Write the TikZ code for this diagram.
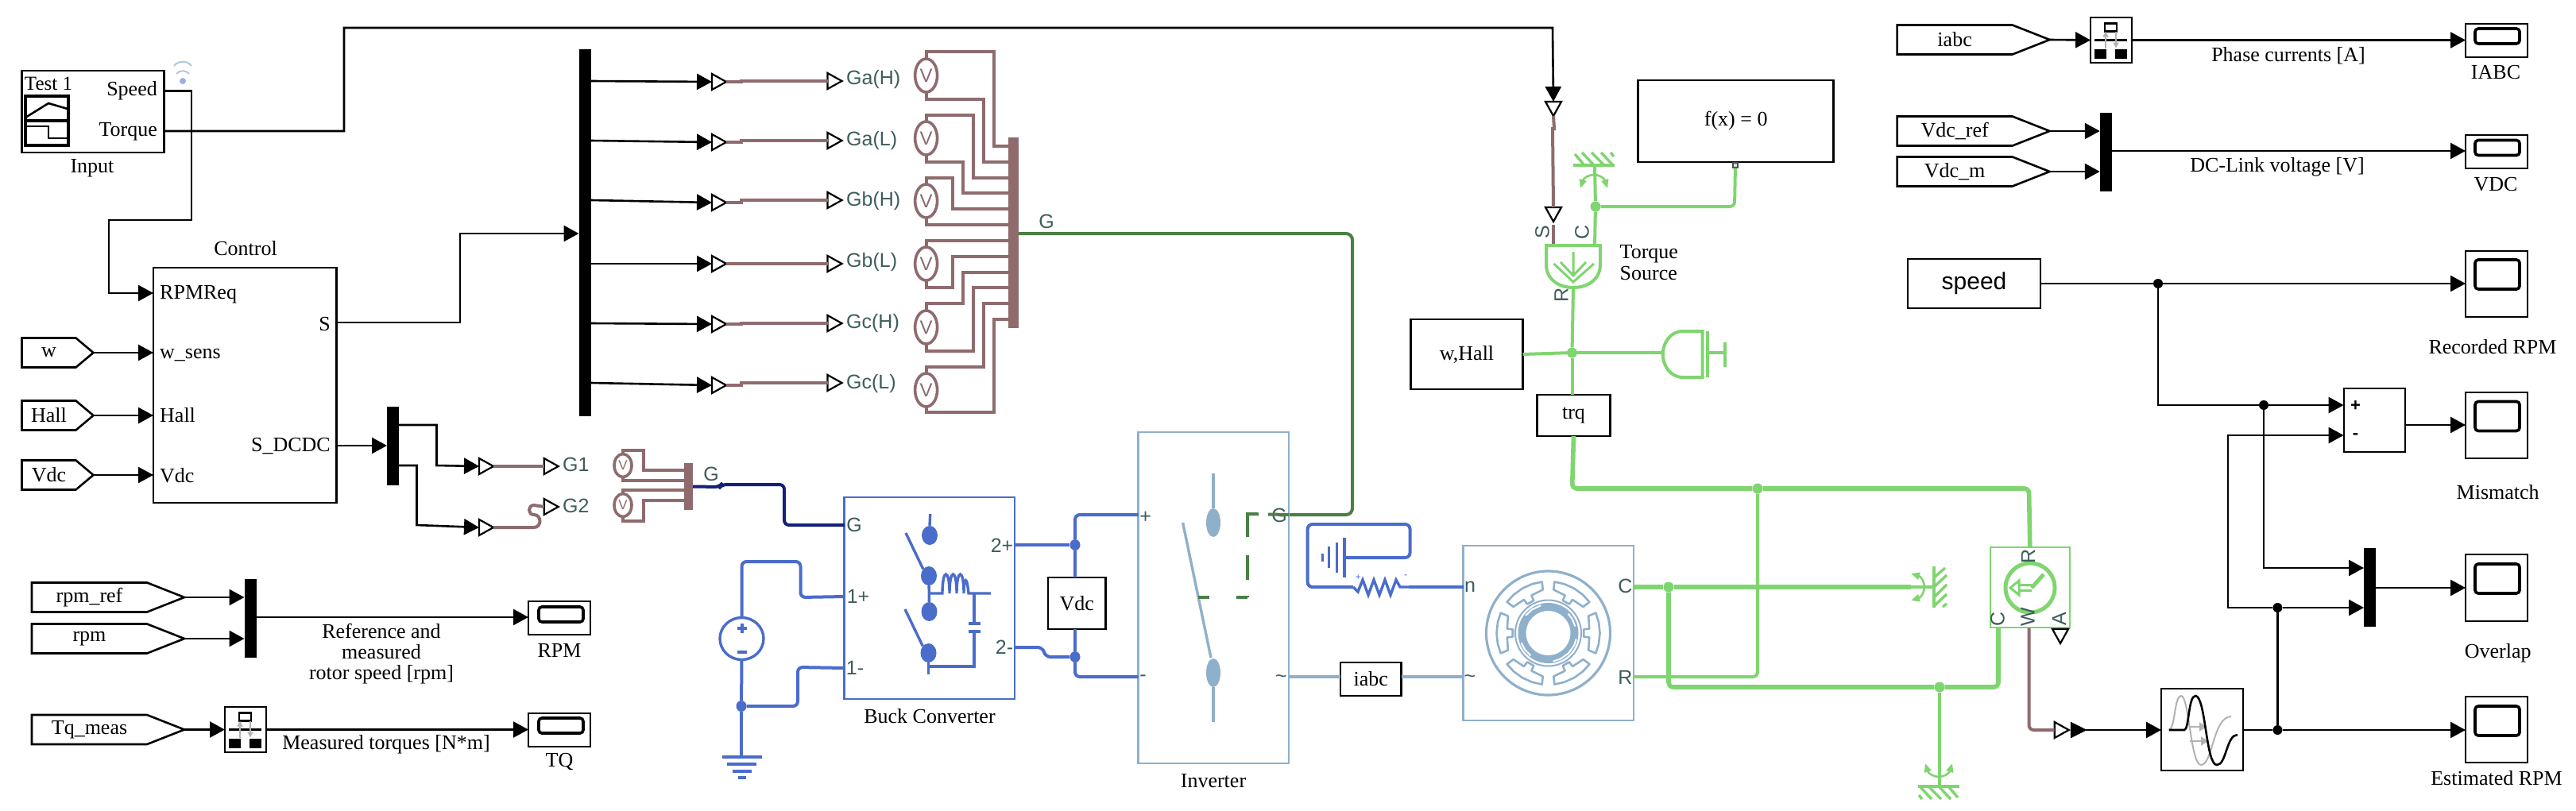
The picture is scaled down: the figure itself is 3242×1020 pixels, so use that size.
\documentclass[tikz,border=0pt]{standalone}
\usepackage{fontspec}
\setmainfont{Liberation Serif}
\setsansfont{Liberation Sans}
\usepackage{xcolor}
\usetikzlibrary{shapes,arrows.meta,positioning}
\definecolor{gatebrown}{HTML}{8F6B6E}
\definecolor{mechgreen}{HTML}{7FD56F}
\definecolor{gategreen}{HTML}{4B7F47}
\definecolor{gatenavy}{HTML}{14207A}
\definecolor{elecblue}{HTML}{4A6CCB}
\definecolor{paleblue}{HTML}{8FB0CB}
\definecolor{porttext}{HTML}{3E5C5C}
\tikzset{
  blk/.style={rectangle,draw,line width=2.6pt,inner sep=0pt,outer sep=0pt,font=\fontsize{26}{30}\selectfont},
  scopebox/.style={blk,minimum width=78pt},
  scopescr/.style={rectangle,draw,line width=3.6pt,rounded corners=4pt,inner sep=0pt,minimum width=56pt},
  busbar/.style={rectangle,fill=black,inner sep=0pt,outer sep=0pt,minimum width=15pt,minimum height=99pt},
  tagbig/.style={signal,draw,line width=2.6pt,inner sep=0pt,outer sep=0pt,signal to=east,signal pointer angle=43,minimum width=192pt,minimum height=37pt,font=\fontsize{26}{30}\selectfont},
  tagsmall/.style={signal,draw,line width=2.6pt,inner sep=0pt,outer sep=0pt,signal to=east,signal pointer angle=80,minimum width=90pt,minimum height=37pt,font=\fontsize{26}{30}\selectfont},
  lbl/.style={inner sep=0pt,font=\fontsize{26}{26}\selectfont},
  plbl/.style={inner sep=0pt,font=\sffamily\fontsize{25}{28}\selectfont,text=porttext},
  tri/.style={isosceles triangle,isosceles triangle stretches,draw=black,fill=white,line width=2.2pt,inner sep=0pt,outer sep=0pt,minimum width=20pt,minimum height=18pt,anchor=west},
  sig/.style={draw=black,line width=2.6pt,-{Triangle[length=19pt,width=20pt]}},
  line/.style={draw=black,line width=2.6pt},
  dotb/.style={circle,fill=black,inner sep=0pt,minimum size=12pt},
  dotm/.style={circle,fill=mechgreen,inner sep=0pt,minimum size=13pt},
  dote/.style={ellipse,fill=elecblue,inner sep=0pt,minimum width=13pt,minimum height=14pt},
  dotk/.style={ellipse,fill=elecblue,inner sep=0pt,minimum width=20pt,minimum height=24pt},
  gate/.style={draw=gatebrown,line width=4pt},
  gatebus/.style={rectangle,fill=gatebrown,inner sep=0pt,outer sep=0pt},
  volt/.style={ellipse,draw=gatebrown,line width=3.6pt,fill=white,inner sep=0pt,outer sep=0pt,minimum width=28pt,minimum height=42pt,text=gatebrown,font=\sffamily\fontsize{24}{24}\selectfont},
  voltsm/.style={volt,minimum width=22pt,minimum height=29pt,font=\sffamily\fontsize{17}{17}\selectfont},
  elec/.style={draw=elecblue,line width=4pt,rounded corners=6pt},
  elecbox/.style={rectangle,draw=elecblue,line width=2.2pt,inner sep=0pt,outer sep=0pt},
  pale/.style={draw=paleblue,line width=4pt},
  palebox/.style={rectangle,draw=paleblue,line width=2.2pt,inner sep=0pt,outer sep=0pt},
  mech/.style={draw=mechgreen,line width=4pt,rounded corners=6pt},
  mechth/.style={draw=mechgreen,line width=5.6pt,rounded corners=6pt},
  eswitch/.style={elec,rounded corners=0pt,line width=3.4pt}
}
\newcommand{\selicon}[1]{%
  \begin{scope}[shift={(#1)}]
    \draw[line width=2.4pt] (-8,-21) rectangle (7,-11);
    \draw[line width=2.4pt] (-21,0) -- (20,0);
    \fill (-21,11) rectangle (-6,23);
    \fill (5,11) rectangle (20,23);
    \draw[gray!60,line width=2pt,-{Triangle[length=7pt,width=7pt]}] (-7,10) -- (-7,-11);
    \draw[gray!60,line width=2pt,-{Triangle[length=7pt,width=7pt]}] (6,-11) -- (6,10);
  \end{scope}}
\newcommand{\mechwall}[3]{%
  \begin{scope}[shift={(#1,#2)},rotate=#3]
    \draw[draw=mechgreen,line width=3.4pt] (-26,0) -- (26,0);
    \draw[draw=mechgreen,line width=3.4pt] (-24,-14) -- (-12,0) (-15,-16) -- (0,0) (-3,-16) -- (13,0) (9,-16) -- (24,0) (21,-16) -- (25,-11);
    \draw[draw=mechgreen,line width=2.6pt,{Triangle[length=11pt,width=9pt]}-{Triangle[length=11pt,width=9pt]}] (-17,29) .. controls (-13,16) and (-6,12) .. (0,12) .. controls (6,12) and (13,16) .. (17,29);
  \end{scope}}
\newcommand{\statorpole}[1]{%
  \draw[draw=paleblue,line width=2.6pt,line join=round] (#1-23:65) -- (#1-12:65) -- (#1:65) -- (#1+12:65) -- (#1+23:65) -- (#1+23:55) -- (#1+6:52) -- (#1+6:45) -- (#1-6:45) -- (#1-6:52) -- (#1-23:55) -- cycle;}

\begin{document}
\begin{tikzpicture}[x=1pt,y=-1pt,>=stealth]
    \useasboundingbox (0,0) rectangle (3242,1020);

    % input and control
    \node[blk,minimum width=179pt,minimum height=103pt] (input) at (117,140.5) {};
    \node[lbl,font=\fontsize{25}{26}\selectfont] (test) at (61,105) {Test 1};
    \node[lbl,anchor=east] (speedl) at (198,114) {Speed};
    \node[lbl,anchor=east] (torquel) at (198,166) {Torque};
    \node[lbl] (inputl) at (116,212) {Input};
    \draw[line width=3.2pt] (32,121) rectangle (86,183) (32,152) -- (86,152);
    \draw[line width=2.6pt] (32,148) -- (61,130) -- (85,137);
    \draw[line width=2.6pt] (32,159) -- (61,159) -- (61,174) -- (85,174);
    \draw[paleblue!70,line width=2pt] (219,83) .. controls (224,76) and (236,76) .. (241,83);
    \draw[paleblue!70,line width=2pt] (222,93) .. controls (226,88) and (234,88) .. (238,93);
    \node[circle,fill=elecblue!55,inner sep=0pt,minimum size=8pt] (wifi) at (230,102) {};
    \coordinate (inSpeed) at (207,114.5);
    \coordinate (inTorque) at (207,165);

    \node[blk,minimum width=230.5pt,minimum height=296pt] (ctrl) at (308.25,485) {};
    \node[lbl] (ctrll) at (309,313) {Control};
    \node[lbl,anchor=west] (rpmreq) at (201,371) {RPMReq};
    \node[lbl,anchor=west] (wsens) at (201,447) {w\_sens};
    \node[lbl,anchor=west] (halli) at (201,523) {Hall};
    \node[lbl,anchor=west] (vdci) at (201,599) {Vdc};
    \node[lbl,anchor=east] (sout) at (416,408) {S};
    \node[lbl,anchor=east] (sdcdc) at (416,562) {S\_DCDC};
    \coordinate (ctrlRpm) at (193,369);
    \coordinate (ctrlW) at (193,444);
    \coordinate (ctrlHall) at (193,523);
    \coordinate (ctrlVdc) at (193,598);
    \coordinate (ctrlS) at (423.5,406);
    \coordinate (ctrlD) at (423.5,561);

    \node[tagsmall,anchor=west] (tagw) at (27.5,444) {w\hspace{12pt}};
    \node[tagsmall,anchor=west] (taghall) at (27.5,523) {Hall\hspace{12pt}};
    \node[tagsmall,anchor=west] (tagvdc) at (27.5,598) {Vdc\hspace{12pt}};

    \draw[sig] (inSpeed) -- (241,114.5) -- (241,277) -- (137,277) -- (137,369) -- (ctrlRpm);
    \draw[sig] (tagw.east) -- (ctrlW);
    \draw[sig] (taghall.east) -- (ctrlHall);
    \draw[sig] (tagvdc.east) -- (ctrlVdc);

    % gate signals
    \node[busbar,minimum height=462pt] (gbus) at (736,293) {};
    \coordinate (gbusIn) at (728.5,294);
    \draw[sig] (ctrlS) -- (579,406) -- (579,294) -- (gbusIn);

    \node[tri] (ga) at (896,103) {};
    \node[tri] (gb) at (896,179) {};
    \node[tri] (gc) at (896,255) {};
    \node[tri] (gd) at (896,332) {};
    \node[tri] (ge) at (896,408) {};
    \node[tri] (gf) at (896,485) {};
    \node[tri] (ha) at (1041.5,102) {};
    \node[tri] (hb) at (1041.5,177) {};
    \node[tri] (hc) at (1041.5,252) {};
    \node[tri] (hd) at (1041.5,332) {};
    \node[tri] (he) at (1041.5,407) {};
    \node[tri] (hf) at (1041.5,482) {};
    \draw[sig] (744,102) -- (ga.west);
    \draw[sig] (744,177) -- (gb.west);
    \draw[sig] (744,252) -- (gc.west);
    \draw[sig] (744,332) -- (gd.west);
    \draw[sig] (744,407) -- (ge.west);
    \draw[sig] (744,482) -- (gf.west);
    \draw[gate] (ga.apex) -- (933,103) -- (933,102) -- (ha.west);
    \draw[gate] (gb.apex) -- (933,179) -- (933,177) -- (hb.west);
    \draw[gate] (gc.apex) -- (933,255) -- (933,252) -- (hc.west);
    \draw[gate] (gd.apex) -- (hd.west);
    \draw[gate] (ge.apex) -- (933,408) -- (933,407) -- (he.west);
    \draw[gate] (gf.apex) -- (933,485) -- (933,482) -- (hf.west);
    \node[plbl,anchor=west] (gal) at (1065,100) {Ga(H)};
    \node[plbl,anchor=west] (gbl) at (1065,177) {Ga(L)};
    \node[plbl,anchor=west] (gcl) at (1065,253) {Gb(H)};
    \node[plbl,anchor=west] (gdl) at (1065,330) {Gb(L)};
    \node[plbl,anchor=west] (gel) at (1065,407) {Gc(H)};
    \node[plbl,anchor=west] (gfl) at (1065,483) {Gc(L)};

    \node[gatebus,minimum width=13pt,minimum height=240pt] (vbus) at (1275.5,293) {};
    \node[volt] (va) at (1165.6,95) {V};
    \node[volt] (vb) at (1165.6,174) {V};
    \node[volt] (vc) at (1165.6,253) {V};
    \node[volt] (vd) at (1165.6,332) {V};
    \node[volt] (ve) at (1165.6,412) {V};
    \node[volt] (vf) at (1165.6,491) {V};
    \draw[gate] (va.north) -- (1165.6,65) -- (1251,65) -- (1251,184) -- (1269,184);
    \draw[gate] (va.south) -- (1165.6,125) -- (1238,125) -- (1238,204) -- (1269,204);
    \draw[gate] (vb.north) -- (1165.6,145) -- (1224.5,145) -- (1224.5,224) -- (1269,224);
    \draw[gate] (vb.south) -- (1165.6,204) -- (1212,204) -- (1212,243) -- (1269,243);
    \draw[gate] (vc.north) -- (1165.6,224) -- (1198.6,224) -- (1198.6,263) -- (1269,263);
    \draw[gate] (vc.south) -- (1165.6,283) -- (1269,283);
    \draw[gate] (vd.north) -- (1165.6,303) -- (1269,303);
    \draw[gate] (vd.south) -- (1165.6,362) -- (1198.6,362) -- (1198.6,323) -- (1269,323);
    \draw[gate] (ve.north) -- (1165.6,382) -- (1212,382) -- (1212,343) -- (1269,343);
    \draw[gate] (ve.south) -- (1165.6,442) -- (1224.5,442) -- (1224.5,362) -- (1269,362);
    \draw[gate] (vf.north) -- (1165.6,462) -- (1238,462) -- (1238,382) -- (1269,382);
    \draw[gate] (vf.south) -- (1165.6,519) -- (1251,519) -- (1251,402) -- (1269,402);

    \node[plbl] (gmain) at (1317,279) {G};
    \coordinate (vbusOut) at (1282,294);
    \coordinate (invG) at (1622,648);
    \draw[draw=gategreen,line width=4pt,rounded corners=8pt] (vbusOut) -- (1702,294) -- (1702,648) -- (invG);

    % buck gate signals
    \node[busbar,minimum height=99pt] (dbus) at (494,561.5) {};
    \coordinate (dbusIn) at (487,561);
    \draw[sig] (ctrlD) -- (dbusIn);
    \node[tri] (ja) at (603,587) {};
    \node[tri] (jb) at (603,664) {};
    \node[tri] (ka) at (684.7,587) {};
    \node[tri] (kb) at (684.7,638) {};
    \draw[sig] (501,535) -- (549.5,535) -- (549.5,586) -- (ja.west);
    \draw[sig] (501,586) -- (524.5,586) -- (524.5,661) -- (jb.west);
    \draw[gate] (ja.apex) -- (ka.west);
    \draw[gate] (jb.apex) -- (672,664) .. controls (682,664) and (682,648) .. (672,648) .. controls (664,648) and (664,636) .. (672,636) -- (kb.west);
    \node[plbl,anchor=west] (goneL) at (708,585) {G1};
    \node[plbl,anchor=west] (gtwoL) at (708,637) {G2};

    \node[gatebus,minimum width=11pt,minimum height=59pt] (sbus) at (866.5,612.5) {};
    \node[voltsm] (sa) at (784,586) {V};
    \node[voltsm] (sb) at (784,636) {V};
    \draw[gate] (sa.north) -- (784,567) -- (809.5,567) -- (809.5,592) -- (861,592);
    \draw[gate] (sa.south) -- (784,605) -- (861,605);
    \draw[gate] (sb.north) -- (784,617) -- (861,617);
    \draw[gate] (sb.south) -- (784,656) -- (809.5,656) -- (809.5,630) -- (861,630);
    \node[plbl] (gbuckl) at (895,597) {G};

    % buck converter
    \node[elecbox,minimum width=214.5pt,minimum height=254pt] (buck) at (1169.75,753) {};
    \node[lbl] (buckl) at (1170,902) {Buck Converter};
    \node[plbl,anchor=center] (buckg) at (1075,661) {G};
    \node[plbl] (buckp) at (1080,751) {1+};
    \node[plbl] (buckm) at (1076,841) {1-};
    \node[plbl] (bucko) at (1261,687) {2+};
    \node[plbl] (buckn) at (1264,815) {2-};
    \draw[draw=gatenavy,line width=4pt,rounded corners=6pt] (sbus.east) -- (906,613) -- (908,610) -- (987,610) -- (987,661) -- (buck.west |- buckg);
    \node[dotk] (ka1) at (1170,674) {};
    \node[dotk] (ka2) at (1169,725) {};
    \node[dotk] (ka3) at (1169.5,770) {};
    \node[dotk] (ka4) at (1168.5,822) {};
    \draw[eswitch] (ka1.north) -- (1170.7,647);
    \draw[eswitch] (1140,671) -- (ka2.north west);
    \draw[eswitch] (ka2) -- (ka3);
    \draw[eswitch] (1139,767) -- (ka4.north west);
    \draw[eswitch] (ka4) -- (1168.5,849);
    \draw[eswitch] (1169,747) -- (1186,747) .. controls (1186,715) and (1195,715) .. (1195,747) .. controls (1195,715) and (1204,715) .. (1204,747) .. controls (1204,715) and (1213,715) .. (1213,747) .. controls (1213,725) and (1217,725) .. (1219,747) -- (1247,747);
    \draw[eswitch] (1226,747) -- (1226,785) (1219,785) -- (1233.5,785) (1219,795) -- (1233.5,795) (1226,795) -- (1226,839) -- (1169,839);

    % dc supply
    \node[ellipse,draw=elecblue,line width=3.4pt,outer sep=0pt,inner sep=0pt,minimum width=55pt,minimum height=53pt] (batt) at (933.5,804) {};
    \node[dote] (supn) at (933,889) {};
    \draw[elec,line width=4pt] (933.5,791) +(-6,0) -- +(6,0) (933.5,785) -- (933.5,797);
    \draw[elec] (927.5,821) -- (939.5,821);
    \draw[elec] (batt.north) -- (933.5,707) -- (1007.5,707) -- (1007.5,752) -- (buck.west |- buckp);
    \draw[elec] (batt.south) -- (supn);
    \draw[elec] (supn) -- (1004,889) -- (1004,840) -- (buck.west |- buckm);
    \node[inner sep=0pt] (gnd) at (933,953) {};
    \draw[elec] (supn) -- (gnd);
    \draw[elec,rounded corners=0pt] (908.5,953) -- (959,953) (915,962) -- (952,962) (922,971) -- (946,971) (929,979) -- (939,979);

    % dc link
    \node[blk,minimum width=72.6pt,minimum height=65pt] (vdcm) at (1355.3,759.5) {Vdc};
    \node[dote] (dcp) at (1353,686) {};
    \node[dote] (dcn) at (1353,827) {};
    \node[palebox,minimum width=189.5pt,minimum height=417pt] (inv) at (1527.25,752.5) {};
    \node[lbl] (invl) at (1527,983) {Inverter};
    \node[plbl] (invp) at (1441.6,651) {+};
    \node[plbl] (invm) at (1438.6,854) {-};
    \node[plbl] (invgl) at (1610,649) {G};
    \node[plbl] (invac) at (1612.5,855) {\textasciitilde};
    \draw[elec] (buck.east |- dcp) -- (dcp);
    \draw[elec] (buck.east |- buckn) -- (1312,815) -- (1316,827) -- (dcn);
    \draw[elec] (vdcm.north -| dcp) -- (dcp);
    \draw[elec] (dcp) -- (1353,648) -- (inv.west |- 0,648);
    \draw[elec] (vdcm.south -| dcn) -- (dcn);
    \draw[elec] (dcn) -- (1353,852) -- (inv.west |- 0,852);

    % inverter inside
    \node[ellipse,fill=paleblue,inner sep=0pt,minimum width=18pt,minimum height=36pt] (ugbt) at (1527,658) {};
    \node[ellipse,fill=paleblue,inner sep=0pt,minimum width=18pt,minimum height=36pt] (lgbt) at (1527,847) {};
    \draw[pale,line width=3.4pt] (ugbt) -- (1527,596);
    \draw[pale,line width=3.4pt] (lgbt) -- (1527,909);
    \draw[pale,line width=3.4pt] (1488.6,658) -- (1524,828);
    \draw[draw=gategreen,line width=4pt,dash pattern=on 26pt off 12pt on 43pt off 23pt on 31pt off 20pt] (invG) -- (1570,647) -- (1570,752);
    \draw[draw=gategreen,line width=4pt,dash pattern=on 14pt off 34pt] (1570,752) -- (1507,752);

    % machine
    \node[palebox,minimum width=214.5pt,minimum height=220pt] (motor) at (1948.75,797) {};
    \node[plbl] (motn) at (1850,739) {n};
    \node[plbl] (mota) at (1850,855) {\textasciitilde};
    \node[plbl] (motc) at (2045.5,738) {C};
    \node[plbl] (motr) at (2045.5,853) {R};
    \begin{scope}[shift={(1948.5,797)}]
      \draw[draw=paleblue,line width=3.2pt] (0,0) circle[radius=78];
      \statorpole{0}
      \statorpole{60}
      \statorpole{120}
      \statorpole{180}
      \statorpole{240}
      \statorpole{300}
      \draw[draw=paleblue,line width=2pt] (0,0) circle[radius=41.5];
      \draw[draw=paleblue,line width=10pt] (0,0) circle[radius=33];
      \draw[draw=white,line width=2pt] (80:36) -- (65:36) -- (45:36) -- (25:36) -- (12:36);
      \draw[draw=white,line width=2pt] (-14:35) -- (-30:35) -- (-44:35);
      \draw[draw=white,line width=2pt] (-105:36) -- (-125:36) -- (-142:36);
      \draw[draw=white,line width=2pt] (128:36) -- (145:36) -- (160:36);
    \end{scope}
    \node[blk,minimum width=76.6pt,minimum height=42pt] (iabcm) at (1725.3,855) {iabc};
    \draw[pale] (inv.east |- 0,852) -- (iabcm.west |- 0,852);
    \draw[pale] (iabcm.east |- 0,852) -- (motor.west |- 0,852);

    % ground and neutral
    \node[inner sep=0pt] (neuth) at (1691.6,702) {};
    \draw[elec] (motor.west |- motn) -- (1773,739);
    \draw[eswitch] (1773,739) -- (1762,739) -- (1757,730) -- (1750,749) -- (1743,730) -- (1736,749) -- (1729,730) -- (1722,749) -- (1715,730) -- (1709,745) -- (1703,739);
    \draw[elec] (1703,739) -- (1645.7,739) -- (1645.7,660) -- (1774.5,660) -- (1774.5,702) -- (neuth);
    \draw[elec,rounded corners=0pt] (1691.6,677) -- (1691.6,727);
    \draw[elec,rounded corners=0pt,line width=3pt] (1682,683) -- (1682,721) (1672.4,688) -- (1672.4,715) (1664,697) -- (1664,707);
    \node[plbl,font=\sffamily\fontsize{12}{12}\selectfont,text=elecblue] (rplus) at (1709.4,727) {+};
    \node[plbl,font=\sffamily\fontsize{12}{12}\selectfont,text=elecblue] (rminus) at (1769,726) {-};

    % torque source
    \node[tri,rotate=-90] (ta) at (1955,128) {};
    \node[tri,rotate=-90] (tb) at (1955,261) {};
    \draw[sig] (inTorque) -- (433,165) -- (433,35) -- (1954,35) -- (ta.west);
    \draw[gate] (ta.apex) -- (1956,162) -- (1954,162) -- (tb.west);
    \node[plbl,rotate=90] (tsS) at (1941,292) {S};
    \node[plbl,rotate=90] (tsC) at (1991,292) {C};
    \node[plbl,rotate=90] (tsR) at (1965,371) {R};
    \coordinate (tsPs) at (1955,308);
    \draw[gate] (1955,283) -- (tsPs);
    \coordinate (tsPc) at (2007,309);
    \coordinate (tsPr) at (1980,362);
    \draw[draw=mechgreen,line width=4pt] (1946,309) -- (2014,309) -- (2014,333) .. controls (2014,352) and (1998,362) .. (1980,362) .. controls (1962,362) and (1946,352) .. (1946,333) -- cycle;
    \draw[draw=mechgreen,line width=3pt] (1980,317) -- (1980,345) (1955.5,332) -- (1980,355) -- (2006,332) (1964,330) -- (1980,347) -- (1996,330);
    \node[lbl,anchor=west,align=left] (tsl) at (2038.5,331) {Torque\\[1pt]Source};
    \mechwall{2006}{208}{0}
    \node[blk,minimum width=246pt,minimum height=103pt] (fx) at (2184.7,152.5) {f(x) = 0};
    \node[draw=black!70,fill=black!15,line width=1.4pt,inner sep=0pt,minimum size=6pt] (fxp) at (2184,208) {};
    \node[dotm] (tsc) at (2008,260) {};
    \draw[mech] (tsPc) -- (tsc);
    \draw[mech] (tsc) -- (2007,208);
    \draw[mech] (tsc) -- (2183,260) -- (fxp);

    % speed sensor side
    \node[blk,minimum width=141pt,minimum height=88pt,font=\fontsize{26}{30}\selectfont] (whall) at (1846,446) {w,Hall};
    \node[dotm] (wdot) at (1978.5,444) {};
    \node[blk,minimum width=92pt,minimum height=52pt] (trq) at (1980.5,523) {trq};
    \coordinate (inertia) at (2092,444);
    \draw[draw=mechgreen,line width=4pt] (2142.5,417) -- (2118,417) .. controls (2102,417) and (2092.7,432) .. (2092.7,446) .. controls (2092.7,460) and (2102,475) .. (2118,475) -- (2142.5,475) -- cycle;
    \draw[draw=mechgreen,line width=4pt] (2148.5,417) -- (2148.5,475) (2148.5,444) -- (2171,444) (2171,431) -- (2171,462);
    \draw[mech] (tsPr) -- (wdot);
    \draw[mech] (wdot) -- (trq.north -| wdot);
    \draw[mech] (whall.east) -- (wdot);
    \draw[mech] (wdot) -- (inertia);

    % mechanical net
    \node[dotm] (mcd) at (2100,739) {};
    \node[dotm] (mrd) at (2212,615) {};
    \node[dotm] (mgd) at (2441,865) {};
    \node[draw=mechgreen,line width=2.2pt,inner sep=0pt,outer sep=0pt,minimum width=99.6pt,minimum height=101pt] (sens) at (2554.8,739.5) {};
    \draw[mechth] (trq.south) -- (1978.6,615) -- (mrd);
    \draw[mechth] (mrd) -- (2553.5,615) -- (sens.north);
    \draw[mechth] (motor.east |- mcd) -- (mcd);
    \draw[mechth] (mcd) -- (2405,739);
    \draw[mech] (2405,739) -- (2433,739);
    \draw[mech] (motor.east |- 0,852) -- (2212,852) -- (mrd);
    \draw[mechth] (mcd) -- (2100,865) -- (mgd);
    \draw[mechth] (mgd) -- (2515,865) -- (2515,790);
    \draw[mech] (mgd) -- (2441,990);
    \mechwall{2434}{739}{-90}
    \mechwall{2440}{990}{180}

    % rotational sensor
    \node[ellipse,draw=mechgreen,line width=5pt,inner sep=0pt,minimum width=62pt,minimum height=62pt] (sdial) at (2555,740) {};
    \draw[draw=white,line width=1pt] (sdial.center) circle[radius=27];
    \draw[draw=mechgreen,line width=5pt] (2572,723) -- (2557,740);
    \draw[draw=mechgreen,line width=3pt] (2557,736.5) -- (2541,736.5) (2557,743.5) -- (2541,743.5) (2541,731) -- (2530,740) -- (2541,749) -- cycle;
    \node[plbl,rotate=90] (senr) at (2552.4,700) {R};
    \node[plbl,rotate=90] (senc) at (2514,779) {C};
    \node[plbl,rotate=90] (senw) at (2552,777) {W};
    \node[plbl,rotate=90] (sena) at (2591.4,779) {A};
    \node[tri,rotate=-90] (tria) at (2593,792) {};
    \node[tri] (trib) at (2585.7,919) {};
    \node[inner sep=0pt] (senp) at (2553.5,790) {};
    \draw[draw=gatebrown,line width=4pt,rounded corners=6pt] (senp) -- (2553.5,919) -- (trib.west);

    % filter
    \node[blk,minimum width=103pt,minimum height=103pt] (filt) at (2771.5,918.5) {};
    \coordinate (filtIn) at (2720,919);
    \draw[sig] (2606,919) -- (filtIn);
    \draw[black,fill=black] (2606,909) -- (2626,919) -- (2606,929) -- cycle;
    \draw[draw=gray!60,line width=2pt] (2729,919) .. controls (2738,919) and (2736,876) .. (2745,876) .. controls (2755,876) and (2757,963) .. (2770,963) .. controls (2785,963) and (2785,902) .. (2808,902);
    \draw[draw=gray!60,line width=2.4pt,-{Triangle[length=9pt,width=11pt]}] (2756,915) -- (2777,915);
    \draw[draw=gray!60,line width=2.4pt,-{Triangle[length=9pt,width=11pt]}] (2756,933) -- (2779,933);
    \draw[line width=2.6pt] (2730,919) -- (2749,919) .. controls (2755,919) and (2754,876) .. (2763,876) .. controls (2776,876) and (2776,963) .. (2790,963) .. controls (2802,963) and (2802,925) .. (2816,925);

    % scopes
    \node[scopebox,minimum height=42pt] (rpmsc) at (704,778) {};
    \node[scopescr,minimum height=19pt] (rpmscr) at (706,773.5) {};
    \node[lbl] (rpml) at (704,819) {RPM};
    \node[scopebox,minimum height=42pt] (tqsc) at (704,919) {};
    \node[scopescr,minimum height=19pt] (tqscr) at (706,913.5) {};
    \node[lbl] (tql) at (704,959) {TQ};
    \node[scopebox,minimum height=42pt] (iasc) at (3142,51) {};
    \node[scopescr,minimum height=19pt] (iascr) at (3143,45.5) {};
    \node[lbl] (ial) at (3141,91) {IABC};
    \node[scopebox,minimum height=42pt] (vdsc) at (3142,191) {};
    \node[scopescr,minimum height=19pt] (vdscr) at (3143,186) {};
    \node[lbl] (vdl) at (3141,232) {VDC};
    \node[scopebox,minimum height=83pt] (resc) at (3142,357.5) {};
    \node[scopescr,minimum height=37pt] (rescr) at (3143,345.5) {};
    \node[lbl] (rel) at (3137,437) {Recorded RPM};
    \node[scopebox,minimum height=83pt] (misc) at (3142,535.5) {};
    \node[scopescr,minimum height=37pt] (miscr) at (3143,524) {};
    \node[lbl] (mil) at (3143.7,620) {Mismatch};
    \node[scopebox,minimum height=84pt] (ovsc) at (3142,740) {};
    \node[scopescr,minimum height=37pt] (ovscr) at (3143,728.5) {};
    \node[lbl] (ovl) at (3143.7,822) {Overlap};
    \node[scopebox,minimum height=83pt] (essc) at (3142,918.5) {};
    \node[scopescr,minimum height=37pt] (escr) at (3143,907.5) {};
    \node[lbl] (esl) at (3142,980) {Estimated RPM};

    % bottom left displays
    \node[tagbig,anchor=west] (rpmref) at (40,752) {rpm\_ref\hspace{40pt}};
    \node[tagbig,anchor=west] (rpmm) at (40,804) {rpm\hspace{40pt}};
    \node[busbar] (rpmbus) at (315,778.5) {};
    \draw[sig] (rpmref.east) -- (rpmbus.west |- rpmref);
    \draw[sig] (rpmm.east) -- (rpmbus.west |- rpmm);
    \draw[sig] (rpmbus.east |- 0,777) -- (rpmsc.west |- 0,777);
    \node[lbl,align=center] (rpmt) at (480,823) {Reference and\\measured\\rotor speed [rpm]};
    \node[tagbig,anchor=west] (tqtag) at (40,918.5) {Tq\_meas\hspace{40pt}};
    \node[blk,minimum width=52pt,minimum height=57pt] (tqsel) at (309,918.5) {};
    \selicon{tqsel.center}
    \draw[sig] (tqtag.east) -- (tqsel.west);
    \draw[sig] (tqsel.east) -- (tqsc.west |- tqsel);
    \node[lbl] (tqt) at (486,937) {Measured torques [N*m]};

    % top right displays
    \node[tagbig,anchor=west] (iatag) at (2387.6,50) {iabc\hspace{40pt}};
    \node[blk,minimum width=52pt,minimum height=57pt] (iasel) at (2657,50.5) {};
    \selicon{iasel.center}
    \draw[sig] (iatag.east) -- (iasel.west);
    \draw[sig] (iasel.east) -- (iasc.west |- iasel);
    \node[lbl] (iat) at (2880,70) {Phase currents [A]};
    \node[tagbig,anchor=west] (vreftag) at (2387.6,165) {Vdc\_ref\hspace{40pt}};
    \node[tagbig,anchor=west] (vmtag) at (2387.6,216) {Vdc\_m\hspace{40pt}};
    \node[busbar] (vbusb) at (2650.25,191.5) {};
    \draw[sig] (vreftag.east) -- (vbusb.west |- vreftag);
    \draw[sig] (vmtag.east) -- (vbusb.west |- vmtag);
    \draw[sig] (vbusb.east |- 0,190) -- (vdsc.west |- 0,190);
    \node[lbl] (vdt) at (2866,210) {DC-Link voltage [V]};

    % speed displays
    \node[blk,minimum width=167pt,minimum height=62pt,font=\sffamily\fontsize{30}{32}\selectfont] (speedb) at (2484.5,357) {speed};
    \node[dotb] (spa) at (2716,357) {};
    \node[dotb] (spb) at (2849,510) {};
    \node[dotb] (spc) at (2866.4,765) {};
    \node[dotb] (spd) at (2866.4,919) {};
    \node[blk,minimum width=77.4pt,minimum height=80pt,line width=2.2pt] (sumb) at (2988.3,529) {};
    \node[inner sep=0pt,font=\bfseries\sffamily\fontsize{22}{22}\selectfont] (sump) at (2964.6,511) {+};
    \node[inner sep=0pt,font=\bfseries\sffamily\fontsize{22}{22}\selectfont] (summ) at (2964.6,549) {-};
    \node[busbar] (ovbus) at (2982.5,739.5) {};
    \draw[sig] (speedb.east) -- (resc.west |- speedb);
    \draw[line] (spa) -- (2716,510) -- (spb);
    \draw[sig] (spb) -- (sumb.west |- spb);
    \draw[sig] (spb) -- (2849,715) -- (ovbus.west |- 0,715);
    \draw[sig] (spc) -- (2804,765) -- (2804,548) -- (sumb.west |- 0,548);
    \draw[sig] (spc) -- (ovbus.west |- spc);
    \draw[line] (spd) -- (spc);
    \draw[line] (filt.east |- spd) -- (spd);
    \draw[sig] (spd) -- (essc.west |- spd);
    \draw[sig] (sumb.east |- 0,535) -- (misc.west |- 0,535);
    \draw[sig] (ovbus.east |- ovsc) -- (ovsc.west);
\end{tikzpicture}
\end{document}
